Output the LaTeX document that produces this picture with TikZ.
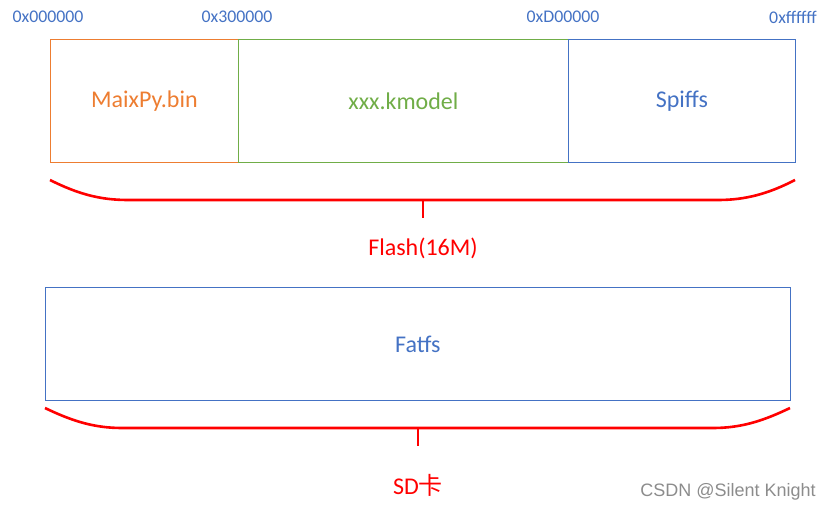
\documentclass[tikz,border=0pt]{standalone}
\usepackage{fontspec}
\setmainfont{Carlito}
\newfontfamily\cjk{Noto Sans CJK SC}
\newfontfamily\wmfont{Liberation Sans}
\usetikzlibrary{positioning}
\definecolor{binorange}{HTML}{ED7D31}
\definecolor{modelgreen}{HTML}{70AD47}
\definecolor{fsblue}{HTML}{4472C4}

\begin{document}
\begin{tikzpicture}[x=1pt,y=-1pt,
part/.style={rectangle,draw,line width=0.8pt,inner sep=0pt,anchor=north west,font=\fontsize{24}{27}\selectfont},
addr/.style={text=fsblue,font=\fontsize{17.8}{20}\selectfont},
brace/.style={red,line width=2.6pt},
tick/.style={red,line width=2pt}
]
\useasboundingbox (0,0) rectangle (831,511);
% flash partitions
\node [part,draw=binorange,text=binorange,minimum width=188pt,minimum height=123pt] (bin) at (50,39) {MaixPy.bin};
\node [part,draw=modelgreen,text=modelgreen,minimum width=330pt,minimum height=123pt] (model) at (238,39) {xxx.kmodel};
\node [part,draw=fsblue,text=fsblue,minimum width=227pt,minimum height=123pt] (spiffs) at (568,39) {Spiffs};
\node [addr] (a0) at (48,17) {0x000000};
\node [addr] (a3) at (237,17) {0x300000};
\node [addr] (ad) at (563,17) {0xD00000};
\node [addr] (af) at (793,17) {0xffffff};
\draw [brace] (50,180) .. controls (78,194) and (100,200) .. (128,200) -- (718,200)
  .. controls (745,200) and (768,194) .. (795,180);
\coordinate (flashtip) at (423,200);
\node [text=red,font=\fontsize{24}{27}\selectfont] (flash) at (423,248) {Flash(16M)};
\draw [tick] (flashtip) -- ++(0,18);
% sd card
\node [part,draw=fsblue,text=fsblue,minimum width=745pt,minimum height=113pt] (fatfs) at (45,287) {Fatfs};
\draw [brace] (45,408) .. controls (72,421) and (94,428) .. (122,428) -- (713,428)
  .. controls (741,428) and (763,421) .. (790,408);
\coordinate (sdtip) at (418,428);
\node [text=red,font=\fontsize{24}{27}\selectfont] (sd) at (418,485) {SD{\cjk 卡}};
\draw [tick] (sdtip) -- ++(0,18);
\node [text=gray!90,font=\wmfont\fontsize{18}{20}\selectfont] (mark) at (728,492) {CSDN @Silent Knight};
\end{tikzpicture}
\end{document}
